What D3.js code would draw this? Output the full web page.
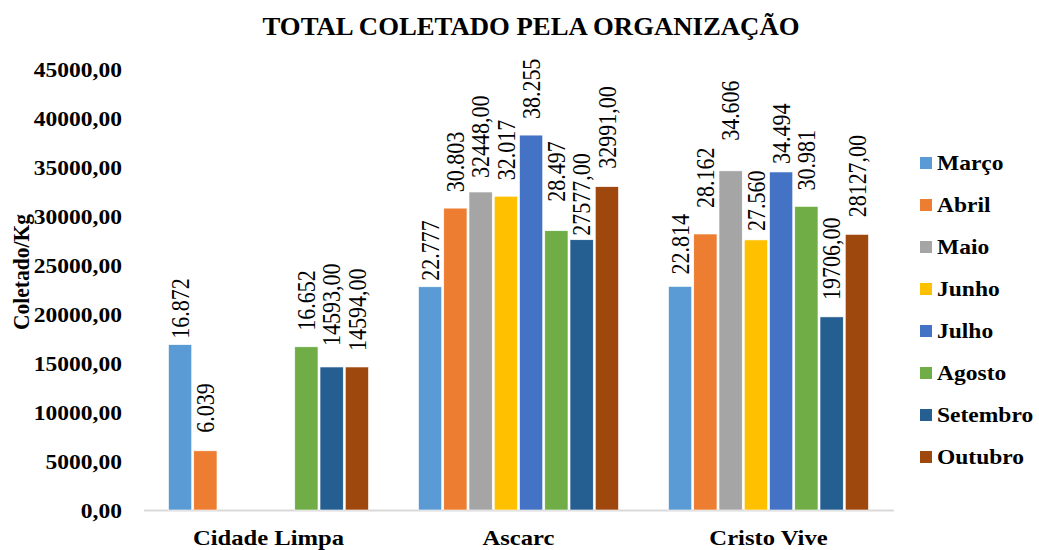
<!DOCTYPE html>
<html>
<head>
<meta charset="utf-8">
<script src="https://cdn.jsdelivr.net/npm/d3@7"></script>
<style>
  body { margin: 0; background: #fff; }
  text { font-family: "Liberation Serif", "Times New Roman", serif; fill: #000; }
</style>
</head>
<body>
<div id="chart"></div>
<script>
// data
var groups = ["Cidade Limpa", "Ascarc", "Cristo Vive"];
var months = ["Março", "Abril", "Maio", "Junho", "Julho", "Agosto", "Setembro", "Outubro"];
var colors = ["#5B9BD5", "#ED7D31", "#A5A5A5", "#FFC000", "#4472C4", "#70AD47", "#255E91", "#9E480E"];

// one array per month, in group order (null = no bar)
var marco    = [16872, 22777, 22814];
var abril    = [6039, 30803, 28162];
var maio     = [null, 32448, 34606];
var junho    = [null, 32017, 27560];
var julho    = [null, 38255, 34494];
var agosto   = [16652, 28497, 30981];
var setembro = [14593, 27577, 19706];
var outubro  = [14594, 32991, 28127];

// data labels as printed on the chart
var marcoLbl    = ["16.872", "22.777", "22.814"];
var abrilLbl    = ["6.039", "30.803", "28.162"];
var maioLbl     = [null, "32448,00", "34.606"];
var junhoLbl    = [null, "32.017", "27.560"];
var julhoLbl    = [null, "38.255", "34.494"];
var agostoLbl   = ["16.652", "28.497", "30.981"];
var setembroLbl = ["14593,00", "27577,00", "19706,00"];
var outubroLbl  = ["14594,00", "32991,00", "28127,00"];

var yTicks = [0, 5000, 10000, 15000, 20000, 25000, 30000, 35000, 40000, 45000];

var series = [marco, abril, maio, junho, julho, agosto, setembro, outubro];
var seriesLbl = [marcoLbl, abrilLbl, maioLbl, junhoLbl, julhoLbl, agostoLbl, setembroLbl, outubroLbl];

// labels were nudged by hand in the original, gap above bar top (px)
var labelLift = [
  [6, 6, 12],
  [18, 16, 26],
  [0, 14, 30],
  [0, 16, 9],
  [0, 16, 8],
  [16, 29, 16],
  [21, 4, 17],
  [16, 18, 17]
];

// flatten for d3
var bars = [];
months.forEach(function(m, i) {
  groups.forEach(function(g, j) {
    if (series[i][j] != null) {
      bars.push({ month: m, group: g, value: series[i][j], label: seriesLbl[i][j],
                  lift: labelLift[i][j], color: colors[i] });
    }
  });
});

// svg
var svgWidth = 1039;
var svgHeight = 550;
var SX = 1.12; // horizontal stretch of the original picture

var svg = d3.select("#chart")
  .append("svg")
  .attr("width", svgWidth)
  .attr("height", svgHeight);

var plot = { left: 143.5, right: 893.5, top: 69, bottom: 510 };

// scales
var x0 = d3.scaleBand()
  .domain(groups)
  .range([plot.left, plot.right])
  .paddingInner(0.2)
  .paddingOuter(0.1);

var x1 = d3.scaleBand()
  .domain(months)
  .range([0, x0.bandwidth()])
  .paddingInner(0.08);

var y = d3.scaleLinear()
  .domain([0, 45000])
  .range([plot.bottom, plot.top]);

// title
svg.append("text")
  .attr("transform", "translate(531, 35) scale(1.07,1)")
  .attr("text-anchor", "middle")
  .style("font-size", "25px")
  .style("font-weight", "bold")
  .text("TOTAL COLETADO PELA ORGANIZAÇÃO");

// y axis
var yAxis = svg.append("g")
  .attr("transform", "translate(" + plot.left + ",0)")
  .call(d3.axisLeft(y).tickValues(yTicks).tickSize(0).tickPadding(0)
    .tickFormat(function(d) { return d + ",00"; }));
yAxis.select(".domain").remove();
yAxis.selectAll("text")
  .attr("x", -21.5 / SX)
  .attr("dy", "0.34em")
  .attr("transform", "scale(" + SX + ",1)")
  .style("font-family", "'Liberation Serif', 'Times New Roman', serif")
  .style("font-size", "21px")
  .style("font-weight", "bold");

// x axis
var xAxis = svg.append("g")
  .attr("transform", "translate(0," + plot.bottom + ")")
  .call(d3.axisBottom(x0).tickSize(0).tickSizeOuter(0).tickPadding(0));
xAxis.select(".domain")
  .attr("stroke", "#D9D9D9")
  .attr("stroke-width", 2);
xAxis.selectAll("text")
  .attr("y", 35)
  .attr("dy", null)
  .attr("transform", "scale(" + SX + ",1)")
  .style("font-family", "'Liberation Serif', 'Times New Roman', serif")
  .style("font-size", "22px")
  .style("font-weight", "bold");

// y axis title
svg.append("text")
  .attr("transform", "translate(21, 272) scale(" + SX + ",1) rotate(-90)")
  .attr("text-anchor", "middle")
  .attr("dy", "0.35em")
  .style("font-size", "21.5px")
  .style("font-weight", "bold")
  .text("Coletado/Kg");

// bars
svg.append("g")
  .selectAll("rect")
  .data(bars)
  .enter()
  .append("rect")
  .attr("x", d => x0(d.group) + x1(d.month))
  .attr("y", d => y(d.value))
  .attr("width", x1.bandwidth())
  .attr("height", d => y(0) - y(d.value))
  .attr("fill", d => d.color)
  .attr("stroke", "#fff")
  .attr("stroke-width", 0.6);

// data labels
svg.append("g")
  .selectAll("text")
  .data(bars)
  .enter()
  .append("text")
  .attr("transform", d => "translate(" + (x0(d.group) + x1(d.month) + x1.bandwidth() / 2) + "," + (y(d.value) - d.lift) + ") scale(" + SX + ",1) rotate(-90)")
  .attr("dy", "0.35em")
  .style("font-size", "22px")
  .text(d => d.label);

// legend
var legend = svg.append("g")
  .selectAll("g")
  .data(months)
  .enter()
  .append("g")
  .attr("transform", (d, i) => "translate(920," + (163 + i * 42) + ")");

legend.append("rect")
  .attr("x", 0)
  .attr("y", -6)
  .attr("width", 12)
  .attr("height", 12)
  .attr("fill", (d, i) => colors[i]);

legend.append("text")
  .attr("transform", "translate(17,0) scale(" + SX + ",1)")
  .attr("dy", "0.34em")
  .style("font-size", "21px")
  .style("font-weight", "bold")
  .text(d => d);
</script>
</body>
</html>
